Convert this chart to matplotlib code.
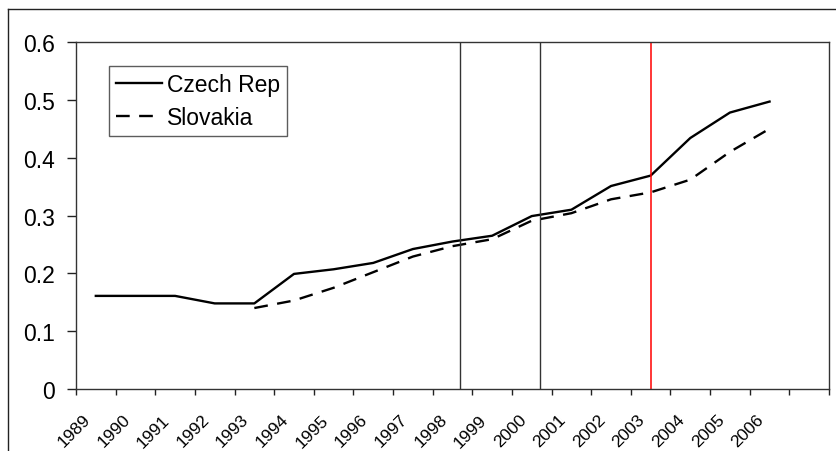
import numpy as np
import matplotlib
matplotlib.use("Agg")
import matplotlib.pyplot as plt
from matplotlib.lines import Line2D
import matplotlib.transforms as mtransforms

plt.rcParams['font.family'] = ['Liberation Sans', 'DejaVu Sans']

years = list(range(1989, 2007))
year_labels = [str(y) for y in years]
czech = [0.161, 0.161, 0.161, 0.148, 0.148, 0.199, 0.207, 0.218, 0.242,
         0.255, 0.265, 0.299, 0.310, 0.351, 0.369, 0.434, 0.478, 0.497]
slovakia = [np.nan, np.nan, np.nan, np.nan, 0.140, 0.153, 0.175, 0.202,
            0.229, 0.247, 0.259, 0.291, 0.304, 0.328, 0.340, 0.362, 0.410, 0.450]
event_years_black = [1998.2, 2000.2]
event_year_red = [2003.0]
yticks = [0, 0.1, 0.2, 0.3, 0.4, 0.5, 0.6]
ytick_labels = ['0', '0.1', '0.2', '0.3', '0.4', '0.5', '0.6']
n_slots = 19  # 18 years + one empty slot

W, H = 836, 452
fig = plt.figure(figsize=(W / 100, H / 100), dpi=100)
ax = fig.add_axes([76 / W, 1 - 390 / H, (829 - 76) / W, (390 - 43) / H])

x = np.arange(len(years))
ax.plot(x, czech, color='black', lw=1.7, label='Czech Rep', solid_joinstyle='round')
ax.plot(x, slovakia, color='black', lw=1.7, dashes=(5.8, 4.0), label='Slovakia')

for ey in event_years_black:
    ax.axvline(ey - years[0], color='#333333', lw=1.0)
for ey in event_year_red:
    ax.axvline(ey - years[0], color='red', lw=1.1)

ax.set_xlim(-0.5, n_slots - 0.5)
ax.set_ylim(0, 0.6)

ax.set_xticks(np.arange(-0.5, n_slots, 1.0))
ax.set_xticklabels([])
ax.set_xticks(x, minor=True)
ax.set_xticklabels(year_labels, minor=True, rotation=45, ha='right',
                   va='center', rotation_mode='anchor', fontsize=12.5)
ax.tick_params(axis='x', which='major', direction='out', length=4.2, width=1.0, color='#222222')
ax.tick_params(axis='x', which='minor', length=0, pad=20)
offset = mtransforms.ScaledTranslation(-8 / 100, 0, fig.dpi_scale_trans)
for lab in ax.get_xticklabels(minor=True):
    lab.set_transform(lab.get_transform() + offset)

ax.set_yticks(yticks)
ax.set_yticklabels(ytick_labels, fontsize=16.5)
ax.tick_params(axis='y', direction='out', length=6.3, width=1.0, pad=9, color='#222222')

for s in ax.spines.values():
    s.set_color('#333333')
    s.set_linewidth(1.0)

leg = ax.legend(loc='upper left', bbox_to_anchor=(109 / W, 1 - 67 / H),
                bbox_transform=fig.transFigure, borderaxespad=0,
                fontsize=16.5, frameon=True, fancybox=False, shadow=False,
                handlelength=2.0, handletextpad=0.22, borderpad=0.3,
                labelspacing=0.45)
leg.get_frame().set_edgecolor('#333333')
leg.get_frame().set_linewidth(1.0)

# outer chart frame
fig.add_artist(Line2D([8 / W, 1.0], [1 - 10 / H, 1 - 10 / H], transform=fig.transFigure,
                      color='#222222', lw=1.0))
fig.add_artist(Line2D([8 / W, 8 / W], [0.0, 1 - 10 / H], transform=fig.transFigure,
                      color='#222222', lw=1.0))

fig.savefig('out.png', dpi=100)
